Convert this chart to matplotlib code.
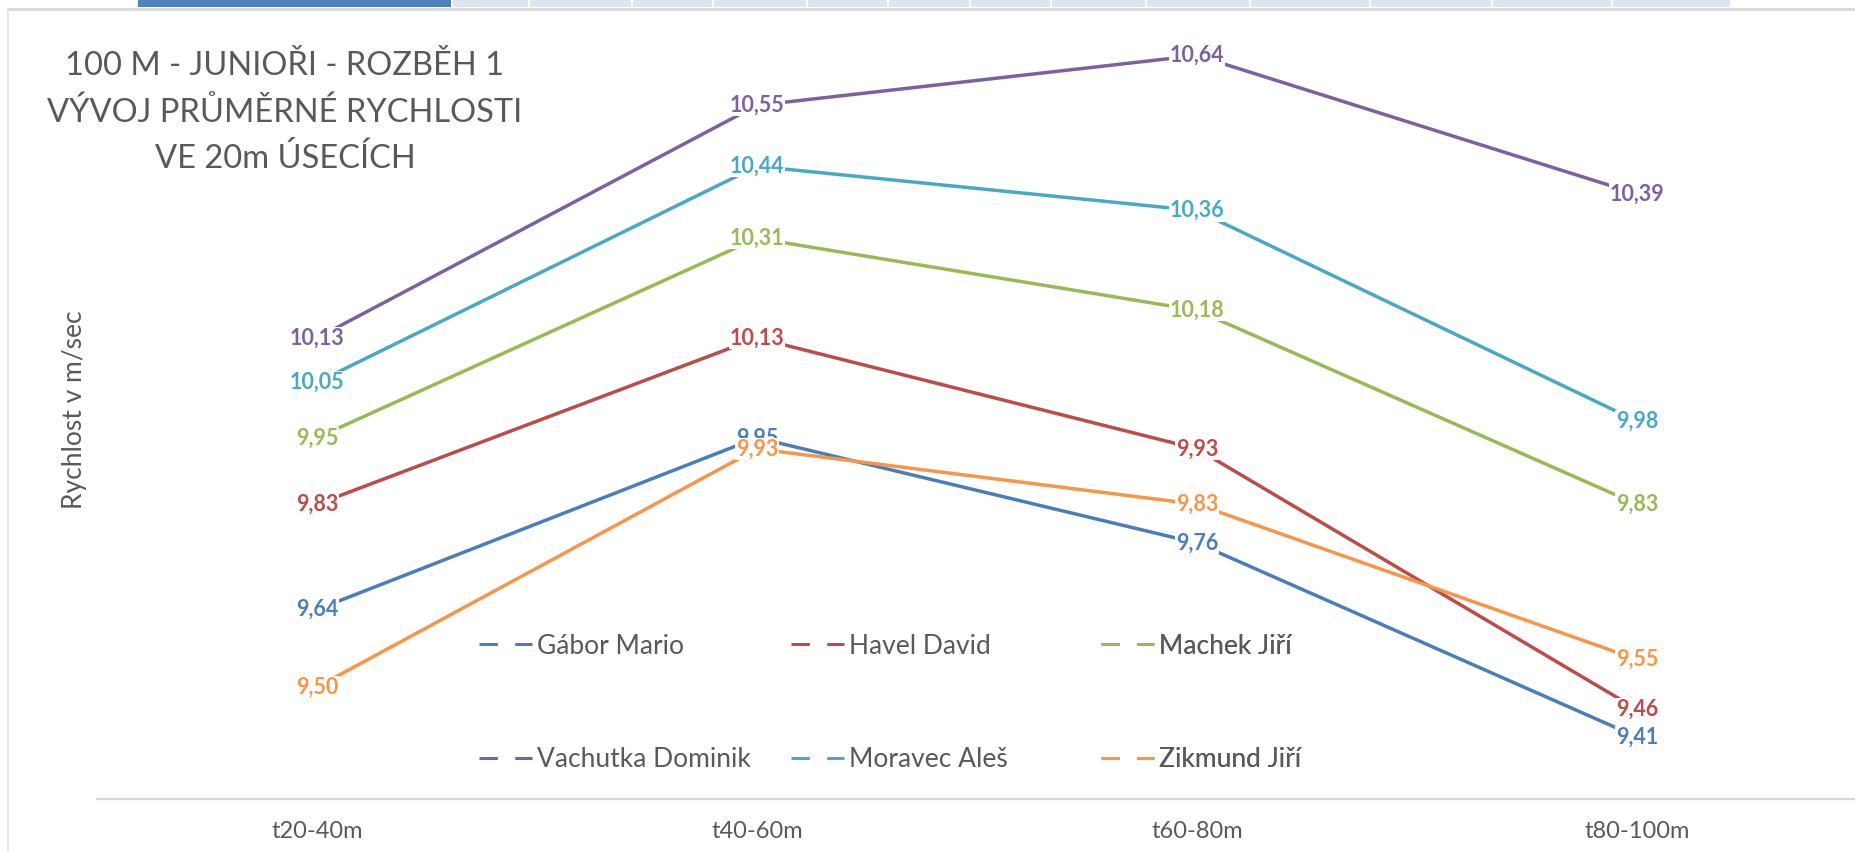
import matplotlib.pyplot as plt
from matplotlib.lines import Line2D
from matplotlib.patches import Rectangle

plt.rcParams['font.family'] = ['Lato', 'Open Sans', 'DejaVu Sans']

W, H = 1856, 852

# Chart data (average speed in m/s per 20 m segment)
categories = ['t20-40m', 't40-60m', 't60-80m', 't80-100m']
names = ['Gábor Mario', 'Havel David', 'Machek Jiří',
         'Vachutka Dominik', 'Moravec Aleš', 'Zikmund Jiří']
gabor = [9.64, 9.95, 9.76, 9.41]
havel = [9.83, 10.13, 9.93, 9.46]
machek = [9.95, 10.31, 10.18, 9.83]
vachutka = [10.13, 10.55, 10.64, 10.39]
moravec = [10.05, 10.44, 10.36, 9.98]
zikmund = [9.50, 9.93, 9.83, 9.55]
series = [gabor, havel, machek, vachutka, moravec, zikmund]
colors = ['#4a7ebb', '#be4b48', '#98b954', '#7d60a0', '#46aac5', '#f79646']

title_lines = ['100 M - JUNIOŘI - ROZBĚH 1',
               'VÝVOJ PRŮMĚRNÉ RYCHLOSTI',
               'VE 20m ÚSECÍCH']
ylabel = 'Rychlost v m/sec'

grey = '#595959'


def fx(x):
    return x / W


def fy(y):
    return 1 - y / H


fig = plt.figure(figsize=(W / 100, H / 100), dpi=100)

# spreadsheet strip and chart frame visible at the top of the screenshot
cells = [138, 453, 530, 633, 714, 808, 889, 971, 1052, 1147, 1251, 1371, 1493, 1613, 1732]
for i in range(len(cells) - 1):
    col = '#4f81bd' if i == 0 else '#dce6f2'
    fig.add_artist(Rectangle((fx(cells[i]), fy(7)), (cells[i + 1] - cells[i] - 2) / W, 7 / H,
                             transform=fig.transFigure, facecolor=col, edgecolor='none'))
fig.add_artist(Line2D([fx(8), 1], [fy(9), fy(9)], transform=fig.transFigure,
                      color='#d9d9d9', lw=2))
fig.add_artist(Line2D([fx(8), fx(8)], [fy(9), 0], transform=fig.transFigure,
                      color='#e3e3e3', lw=1.2))

ax = fig.add_axes([fx(97), fy(799), 1760 / W, (799 - 25) / H])
x = list(range(len(categories)))

for i in range(len(series)):
    ax.plot(x, series[i], color=colors[i], lw=2.5, solid_capstyle='round', zorder=2 + i * 0.1)
    for j in x:
        v = series[i][j]
        ax.text(j, v, f'{v:.2f}'.replace('.', ','), ha='center', va='center',
                color=colors[i], fontsize=15.5, fontweight='bold', zorder=5 + i * 0.1,
                bbox=dict(facecolor='white', edgecolor='none', pad=0.3))

ax.set_xlim(-0.5, 3.5)
ax.set_ylim(9.298, 10.695)
ax.set_xticks(x)
ax.set_xticklabels(categories)
ax.tick_params(axis='x', length=0, pad=16, labelsize=17, labelcolor=grey)
ax.set_yticks([])
for s in ['top', 'left', 'right']:
    ax.spines[s].set_visible(False)
ax.spines['bottom'].set_color('#d9d9d9')
ax.spines['bottom'].set_linewidth(1.6)

# legend: three columns, two rows
col_x = [479, 791, 1101]
for j in range(3):
    handles = []
    for k in (j, j + 3):
        handles.append(Line2D([], [], color=colors[k], lw=2.2,
                              linestyle=(0, (6, 5.7)), dash_capstyle='butt'))
    leg = ax.legend(handles, [names[j], names[j + 3]], loc='center left',
                    bbox_to_anchor=(fx(col_x[j]), fy(703)), bbox_transform=fig.transFigure,
                    frameon=False, fontsize=19, handlelength=2.0, handletextpad=0.2,
                    labelspacing=3.36, borderpad=0, borderaxespad=0, labelcolor=grey)
    ax.add_artist(leg)

for i, line in enumerate(title_lines):
    fig.text(fx(285), fy([75, 122, 168][i]), line, ha='center', va='baseline',
             fontsize=23.5, color=grey)

fig.text(fx(75), fy(410), ylabel, rotation=90, ha='center', va='center',
         fontsize=19, color=grey)

fig.savefig('out.png', dpi=100)
